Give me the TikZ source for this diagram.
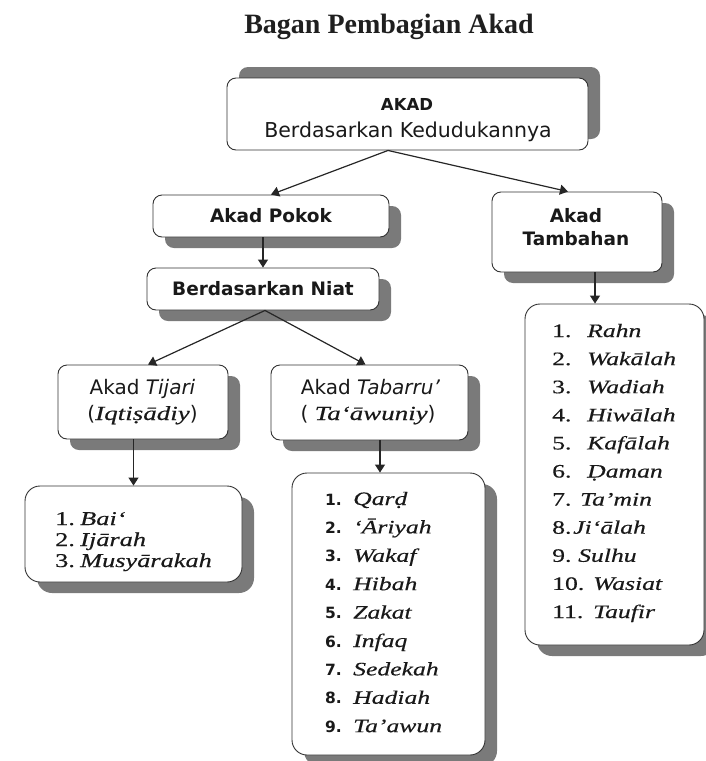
\documentclass[tikz,border=0pt]{standalone}
\usepackage{fontspec}
\setmainfont{Liberation Serif}
\setsansfont{DejaVu Sans}
\newfontfamily\itemfont[FakeStretch=1.35,FakeBold=0.4]{Liberation Serif}
\usetikzlibrary{shadows,arrows.meta}
\newcommand\fsz[1]{\fontsize{#1}{#1}\selectfont}

\tikzset{
  box/.style={draw=black!80, line width=0.9pt, fill=white, rounded corners=9pt,
    inner sep=0pt,
    drop shadow={shadow xshift=12pt, shadow yshift=-11pt, fill=black!52, opacity=1}},
  upbox/.style={draw=black!80, line width=0.9pt, fill=white, rounded corners=9pt,
    inner sep=0pt,
    drop shadow={shadow xshift=12pt, shadow yshift=11pt, fill=black!52, opacity=1}},
  listbox/.style={box, rounded corners=15pt},
  heading/.style={font=\sffamily\bfseries\fsz{18.5}, text=black!90},
  plain/.style={anchor=base, inner sep=0pt, text=black!90},
  item/.style={anchor=base west, inner sep=0pt, text=black!90},
  arr/.style={-{Triangle[length=8pt,width=10pt]}, line width=1.2pt, draw=black!85},
}

\begin{document}
\begin{tikzpicture}[x=1pt,y=-1pt]
\useasboundingbox (0,0) rectangle (706,761);

% title
\node[plain, font=\bfseries\fsz{28}, text=black!88] (title) at (389,33) {Bagan Pembagian Akad};

% root
\node[upbox, minimum width=361pt, minimum height=72pt] (akad) at (407.5,114) {};
\node[plain, font=\sffamily\bfseries\fsz{16.5}] (akad1) at (407,110) {AKAD};
\node[plain, font=\sffamily\fsz{20.5}] (akad2) at (408,137) {Berdasarkan Kedudukannya};

% second level
\node[box, heading, minimum width=236pt, minimum height=42pt] (pokok) at (271,216) {Akad Pokok};
\node[box, minimum width=170pt, minimum height=80pt] (tambahan) at (577,232) {};
\node[plain, heading] (tamb1) at (576,222) {Akad};
\node[plain, heading] (tamb2) at (576,245) {Tambahan};

\node[box, heading, minimum width=232pt, minimum height=42pt] (niat) at (263,289) {Berdasarkan Niat};

% third level
\node[box, minimum width=170pt, minimum height=74pt] (tijari) at (143,402) {};
\node[plain, font=\sffamily\fsz{20}] (tij1) at (142.5,394) {Akad \textit{Tijari}};
\node[plain, font=\sffamily\fsz{20}] (tij2) at (142.5,420) {({\itemfont\itshape Iqtiṣādiy\/})};

\node[box, minimum width=197pt, minimum height=75pt] (tabarru) at (369.5,402.5) {};
\node[plain, font=\sffamily\fsz{20}] (tab1) at (370.5,394) {Akad \textit{Tabarru’}};
\node[plain, font=\sffamily\fsz{20}] (tab2) at (368,420) {( {\itemfont\itshape Ta‘āwuniy\/})};

% lists
\node[listbox, minimum width=217pt, minimum height=96pt] (listA) at (133.5,534) {};
\foreach \nm [count=\idx] in {Bai‘, Ijārah, Musyārakah}
  \node[item, font=\itemfont\fsz{19.5}] (a\idx) at (55,{525+21*(\idx-1)})
    {\makebox[25pt][l]{\idx.}\textit{\nm}};

\node[listbox, minimum width=193pt, minimum height=282pt] (listB) at (388.5,614) {};
\foreach \nm [count=\idx] in {Qarḍ, ‘Āriyah, Wakaf, Hibah, Zakat, Infaq, Sedekah, Hadiah, Ta’awun}
  \node[item, font=\itemfont\fsz{19}] (b\idx) at (325,{505+28.4*(\idx-1)})
    {\makebox[28pt][l]{\sffamily\bfseries\fsz{15.5}\idx.}\textit{\nm}};

\node[listbox, minimum width=179pt, minimum height=341pt] (listC) at (614.5,474.5) {};
\foreach \w/\nr/\nm [count=\idx] in {35/1./Rahn, 35/2./Wakālah, 35/3./Wadiah,
    35/4./Hiwālah, 35/5./Kafālah, 35/6./Ḍaman, 28/7./Ta’min,
    21/8./Ji‘ālah, 26/9./Sulhu, 41/10./Wasiat, 41/11./Taufir}
  \node[item, font=\itemfont\fsz{19}] (c\idx) at (552,{337+28.1*(\idx-1)})
    {\makebox[\w pt][l]{\nr}\textit{\nm}};

% connectors
\draw[arr] ([xshift=-19.5pt]akad.south) -- (pokok.north);
\draw[arr] ([xshift=-19.5pt]akad.south) -- ([xshift=-9pt]tambahan.north);
\draw[arr] (pokok.south -| niat.north) -- (niat.north);
\draw[arr] ([xshift=2pt]niat.south) -- ([xshift=5pt]tijari.north);
\draw[arr] ([xshift=2pt]niat.south) -- ([xshift=-4pt]tabarru.north);
\draw[arr] (tijari.south -| listA.north) -- (listA.north);
\draw[arr] ([xshift=10.5pt]tabarru.south) -- ([xshift=10.5pt]tabarru.south |- listB.north);
\draw[arr] ([xshift=18pt]tambahan.south) -- ([xshift=18pt]tambahan.south |- listC.north);
\end{tikzpicture}
\end{document}
